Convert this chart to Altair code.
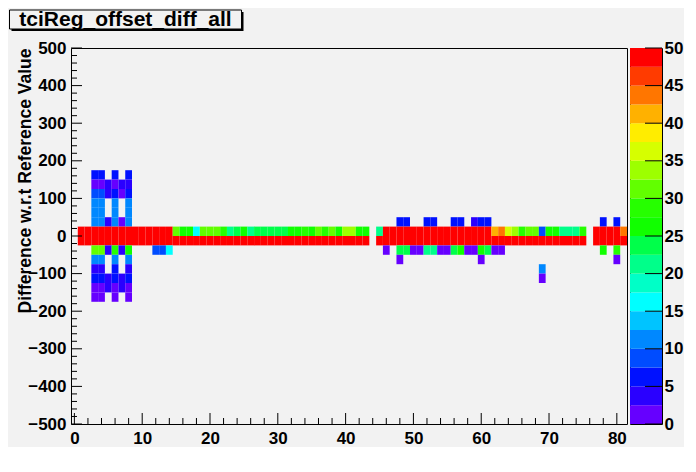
import altair as alt
import pandas as pd

TITLE = "tciReg_offset_diff_all"
Y_TITLE = "Difference w.r.t Reference Value"

# ---- cell contents: x bins centred on integers, y bins of width 25 (lower edge) ----
r150_x = [3, 4, 6, 8]
r150_z = [6, 6, 6, 6]
r125_x = [3, 4, 5, 6, 7, 8]
r125_z = [1, 1, 4, 1, 4, 4]
r100_x = [3, 4, 5, 6, 7, 8]
r100_z = [9, 9, 4, 6, 1, 6]
r75_x = [3, 4, 6, 8]
r75_z = [11, 11, 11, 11]
r50_x = [3, 4, 6, 8]
r50_z = [11, 11, 11, 11]
r25_x = [3, 4, 5, 6, 7, 8, 48, 49, 52, 53, 56, 57, 59, 60, 61, 78, 80]
r25_z = [11, 11, 4, 11, 1, 11, 6, 6, 6, 6, 6, 6, 4, 6, 6, 6, 6]
r0_x = ([1, 2, 3, 4, 5, 6, 7, 8, 9, 10, 11, 12, 13, 14]
        + [15, 16, 17, 18, 19, 20, 21, 22, 23, 24, 25, 26, 27, 28, 29, 30,
           31, 32, 33, 34, 35, 36, 37, 38, 39, 40, 41, 42, 43]
        + [45]
        + [46, 47, 48, 49, 50, 51, 52, 53, 54, 55, 56, 57, 58, 59, 60, 61]
        + [62, 63, 64, 65, 66, 67, 68, 69, 70, 71, 72, 73, 74, 75]
        + [77, 78, 79, 80, 81])
r0_z = ([50, 50, 50, 50, 50, 50, 50, 50, 50, 50, 50, 50, 50, 50]
        + [31, 26, 26, 16, 31, 31, 31, 29, 21, 24, 26, 21, 24, 24, 24, 24,
           24, 26, 26, 29, 26, 31, 29, 31, 26, 34, 34, 26, 26]
        + [21]
        + [50, 50, 50, 50, 50, 50, 50, 50, 50, 50, 50, 50, 50, 50, 50, 50]
        + [41, 44, 36, 34, 29, 31, 31, 9, 26, 26, 21, 21, 21, 29]
        + [50, 50, 50, 50, 44])
rm25_x = ([1, 2, 3, 4, 5, 6, 7, 8, 9, 10, 11, 12, 13, 14, 15, 16, 17, 18, 19, 20,
           21, 22, 23, 24, 25, 26, 27, 28, 29, 30, 31, 32, 33, 34, 35, 36, 37, 38,
           39, 40, 41, 42, 43]
          + [45, 46, 47, 48, 49, 50, 51, 52, 53, 54, 55, 56, 57, 58, 59, 60, 61,
             62, 63, 64, 65, 66, 67, 68, 69, 70, 71, 72, 73, 74, 75]
          + [77, 78, 79, 80, 81])
rm25_z = [50] * 43 + [50] * 31 + [50] * 5
rm50_x = [3, 4, 5, 6, 7, 8, 12, 13, 14, 46, 48, 49, 50, 51, 52, 53, 54, 55, 56,
          57, 58, 59, 60, 61, 62, 63, 78, 80]
rm50_z = [31, 31, 4, 29, 4, 26, 9, 9, 16, 1, 24, 24, 1, 1, 21, 21, 1, 1, 24,
          26, 1, 1, 26, 24, 1, 1, 26, 29]
rm75_x = [3, 4, 6, 8, 48, 60, 80]
rm75_z = [11, 11, 11, 11, 1, 1, 1]
rm100_x = [3, 4, 6, 8, 69]
rm100_z = [4, 4, 6, 4, 11]
rm125_x = [3, 4, 5, 6, 7, 8, 69]
rm125_z = [6, 6, 4, 6, 4, 6, 1]
rm150_x = [3, 4, 5, 6, 7, 8]
rm150_z = [1, 1, 4, 1, 4, 1]
rm175_x = [3, 4, 6, 8]
rm175_z = [1, 1, 1, 1]

ROWS = [
    (150, r150_x, r150_z), (125, r125_x, r125_z), (100, r100_x, r100_z),
    (75, r75_x, r75_z), (50, r50_x, r50_z), (25, r25_x, r25_z),
    (0, r0_x, r0_z), (-25, rm25_x, rm25_z), (-50, rm50_x, rm50_z),
    (-75, rm75_x, rm75_z), (-100, rm100_x, rm100_z), (-125, rm125_x, rm125_z),
    (-150, rm150_x, rm150_z), (-175, rm175_x, rm175_z),
]
YBIN = 25

# ---- palette (20 contour levels, 0..50) ----
level_lo = [0, 2.5, 5, 7.5, 10, 12.5, 15, 17.5, 20, 22.5, 25, 27.5, 30, 32.5,
            35, 37.5, 40, 42.5, 45, 47.5]
palette = ["#6600ff", "#2a00ff", "#0011ff", "#004cff", "#0088ff", "#00c4ff",
           "#00ffff", "#00ffc7", "#00ff8a", "#00ff4a", "#11ff00", "#26ff00",
           "#62ff00", "#9dff00", "#d6ff00", "#ffed00", "#ffb100", "#ff7600",
           "#ff3b00", "#ff0000"]
cb_ticks = [0, 5, 10, 15, 20, 25, 30, 35, 40, 45, 50]

x_major = [0, 10, 20, 30, 40, 50, 60, 70, 80]
y_major = [-500, -400, -300, -200, -100, 0, 100, 200, 300, 400, 500]
x_minor = [v for v in range(0, 82, 2) if v % 10]
y_minor = [v for v in range(-500, 501, 20) if v % 100]

recs = []
for y0, xs_, zs_ in ROWS:
    for xv, zv in zip(xs_, zs_):
        recs.append({"x0": xv - 0.5, "x1": xv + 0.5, "y0": y0, "y1": y0 + YBIN, "z": zv})
cells = pd.DataFrame(recs)

W, H = 556, 376
FONT = "Liberation Sans"

xs = alt.Scale(domain=[-0.5, 81.5], nice=False, zero=False)
ys = alt.Scale(domain=[-500, 500], nice=False, zero=False)
cscale = alt.Scale(type="threshold", domain=level_lo[1:], range=palette)

x_axis = alt.Axis(values=x_major, title=None, tickSize=0, labelPadding=6, domain=False,
                  grid=False, labelFlush=False)
y_axis = alt.Axis(values=y_major, title=Y_TITLE, tickSize=0, labelPadding=5, domain=False,
                  grid=False, titleAnchor="end", titleX=-46, titleBaseline="middle",
                  labelFlush=False)

cell_layer = alt.Chart(cells).mark_rect().encode(
    x=alt.X("x0:Q", scale=xs, axis=x_axis),
    x2="x1:Q",
    y=alt.Y("y0:Q", scale=ys, axis=y_axis),
    y2="y1:Q",
    color=alt.Color("z:Q", scale=cscale, legend=None),
)

xmaj = alt.Chart(pd.DataFrame({"v": x_major})).mark_rule(color="black").encode(
    x=alt.X("v:Q", scale=xs, axis=x_axis), y=alt.value(H), y2=alt.value(H - 11))
xmin = alt.Chart(pd.DataFrame({"v": x_minor})).mark_rule(color="black").encode(
    x=alt.X("v:Q", scale=xs, axis=x_axis), y=alt.value(H), y2=alt.value(H - 6))
ymaj = alt.Chart(pd.DataFrame({"v": y_major})).mark_rule(color="black").encode(
    y=alt.Y("v:Q", scale=ys, axis=y_axis), x=alt.value(0), x2=alt.value(11))
ymin = alt.Chart(pd.DataFrame({"v": y_minor})).mark_rule(color="black").encode(
    y=alt.Y("v:Q", scale=ys, axis=y_axis), x=alt.value(0), x2=alt.value(6))

one = alt.Data(values=[{"a": 1}])
shadow = alt.Chart(one).mark_rect(fill="black").encode(
    x=alt.value(-59.5), x2=alt.value(172.5), y=alt.value(-36), y2=alt.value(-17))
box = alt.Chart(one).mark_rect(fill="#f2f2f2", stroke="black", strokeWidth=1).encode(
    x=alt.value(-61.5), x2=alt.value(170.5), y=alt.value(-38), y2=alt.value(-19))
ttext = alt.Chart(one).mark_text(text=TITLE, font=FONT, fontSize=21, fontWeight="bold",
                                 align="center", baseline="middle", color="black").encode(
    x=alt.value(54.5), y=alt.value(-28))

main = alt.layer(cell_layer, xmaj, xmin, ymaj, ymin, shadow, box, ttext).properties(
    width=W, height=H)

cb_df = pd.DataFrame({"lo": level_lo, "hi": [v + 2.5 for v in level_lo], "col": palette})
cbs = alt.Scale(domain=[0, 50], nice=False, zero=False)
cb_axis = alt.Axis(orient="right", values=cb_ticks, title=None, tickSize=0, labelPadding=2,
                   domain=False, grid=False, labelFlush=False)
cb_rect = alt.Chart(cb_df).mark_rect().encode(
    y=alt.Y("lo:Q", scale=cbs, axis=cb_axis),
    y2="hi:Q",
    x=alt.value(0), x2=alt.value(32),
    color=alt.Color("col:N", scale=None),
)
cb_tk = alt.Chart(pd.DataFrame({"v": cb_ticks})).mark_rule(color="black").encode(
    y=alt.Y("v:Q", scale=cbs, axis=cb_axis), x=alt.value(15), x2=alt.value(32))
cbar = alt.layer(cb_rect, cb_tk).properties(width=32, height=H)

chart = alt.hconcat(main, cbar, spacing=3, bounds="flush").configure(
    background="#f2f2f2", font=FONT, padding=0
).configure_view(
    stroke="black", strokeWidth=1
).configure_axis(
    labelFont=FONT, labelFontSize=17, labelFontWeight="bold", labelColor="black",
    titleFont=FONT, titleFontSize=17.5, titleFontWeight="bold", titleColor="black",
)

chart.save("out.html", embed_options={"renderer": "svg", "actions": False})
